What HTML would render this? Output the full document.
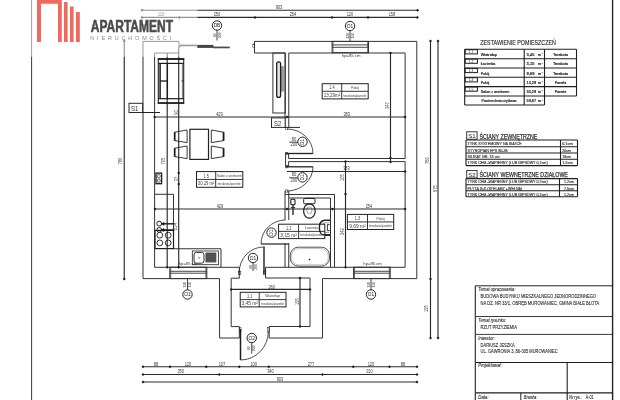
<!DOCTYPE html>
<html><head><meta charset="utf-8"><title>Rzut przyziemia</title>
<style>
html,body{margin:0;padding:0;background:#fff;}
body{width:620px;height:400px;overflow:hidden;font-family:"Liberation Sans",sans-serif;}
svg{display:block;font-family:"Liberation Sans",sans-serif;will-change:transform;transform:translateZ(0);}
svg text{filter:none}
</style></head><body>
<svg width="620" height="400" viewBox="0 0 620 400">
<rect width="620" height="400" fill="#fff"/>
<g opacity="0.999">
<line x1="31.6" y1="0" x2="31.6" y2="400" stroke="#3a3a3a" stroke-width="1.0"/>
<line x1="612.6" y1="0" x2="612.6" y2="400" stroke="#222" stroke-width="1.4"/>
<line x1="141.6" y1="10.2" x2="418" y2="10.2" stroke="#2a2a2a" stroke-width="1.15"/>
<line x1="141.6" y1="17.4" x2="418" y2="17.4" stroke="#2a2a2a" stroke-width="1.15"/>
<path d="M140.5 10.2 L142 8.7 L143.5 10.2 L142 11.7 Z" fill="#1c1c1c"/>
<path d="M416.1 10.2 L417.6 8.7 L419.1 10.2 L417.6 11.7 Z" fill="#1c1c1c"/>
<path d="M140.5 17.4 L142 15.899999999999999 L143.5 17.4 L142 18.9 Z" fill="#1c1c1c"/>
<path d="M177.8 17.4 L179.3 15.899999999999999 L180.8 17.4 L179.3 18.9 Z" fill="#1c1c1c"/>
<path d="M253.5 17.4 L255 15.899999999999999 L256.5 17.4 L255 18.9 Z" fill="#1c1c1c"/>
<path d="M330.5 17.4 L332 15.899999999999999 L333.5 17.4 L332 18.9 Z" fill="#1c1c1c"/>
<path d="M366.5 17.4 L368 15.899999999999999 L369.5 17.4 L368 18.9 Z" fill="#1c1c1c"/>
<path d="M415.9 17.4 L417.4 15.899999999999999 L418.9 17.4 L417.4 18.9 Z" fill="#1c1c1c"/>
<text x="279" y="8.7" font-size="5.4" text-anchor="middle" fill="#3a3a3a" font-weight="normal" font-style="normal" textLength="6.75" lengthAdjust="spacingAndGlyphs">903</text>
<text x="161" y="16.3" font-size="5.4" text-anchor="middle" fill="#3a3a3a" font-weight="normal" font-style="normal" textLength="6.75" lengthAdjust="spacingAndGlyphs">110</text>
<text x="217" y="16.3" font-size="5.4" text-anchor="middle" fill="#3a3a3a" font-weight="normal" font-style="normal" textLength="6.75" lengthAdjust="spacingAndGlyphs">250</text>
<text x="293" y="16.3" font-size="5.4" text-anchor="middle" fill="#3a3a3a" font-weight="normal" font-style="normal" textLength="6.75" lengthAdjust="spacingAndGlyphs">254</text>
<text x="350" y="16.3" font-size="5.4" text-anchor="middle" fill="#3a3a3a" font-weight="normal" font-style="normal" textLength="6.75" lengthAdjust="spacingAndGlyphs">120</text>
<text x="392" y="16.3" font-size="5.4" text-anchor="middle" fill="#3a3a3a" font-weight="normal" font-style="normal" textLength="6.75" lengthAdjust="spacingAndGlyphs">158</text>
<line x1="143" y1="366.75" x2="417" y2="366.75" stroke="#2a2a2a" stroke-width="1.15"/>
<path d="M141.5 366.75 L143 365.25 L144.5 366.75 L143 368.25 Z" fill="#1c1c1c"/>
<path d="M415.5 366.75 L417 365.25 L418.5 366.75 L417 368.25 Z" fill="#1c1c1c"/>
<line x1="143" y1="374.5" x2="417" y2="374.5" stroke="#2a2a2a" stroke-width="1.15"/>
<path d="M141.5 374.5 L143 373.0 L144.5 374.5 L143 376.0 Z" fill="#1c1c1c"/>
<path d="M415.5 374.5 L417 373.0 L418.5 374.5 L417 376.0 Z" fill="#1c1c1c"/>
<line x1="143" y1="382" x2="417" y2="382" stroke="#2a2a2a" stroke-width="1.15"/>
<path d="M141.5 382 L143 380.5 L144.5 382 L143 383.5 Z" fill="#1c1c1c"/>
<path d="M415.5 382 L417 380.5 L418.5 382 L417 383.5 Z" fill="#1c1c1c"/>
<path d="M168.5 366.75 L170 365.25 L171.5 366.75 L170 368.25 Z" fill="#1c1c1c"/>
<path d="M204.75 366.75 L206.25 365.25 L207.75 366.75 L206.25 368.25 Z" fill="#1c1c1c"/>
<path d="M237.75 366.75 L239.25 365.25 L240.75 366.75 L239.25 368.25 Z" fill="#1c1c1c"/>
<path d="M267.25 366.75 L268.75 365.25 L270.25 366.75 L268.75 368.25 Z" fill="#1c1c1c"/>
<path d="M351.75 366.75 L353.25 365.25 L354.75 366.75 L353.25 368.25 Z" fill="#1c1c1c"/>
<path d="M388.0 366.75 L389.5 365.25 L391.0 366.75 L389.5 368.25 Z" fill="#1c1c1c"/>
<path d="M217.75 374.5 L219.25 373.0 L220.75 374.5 L219.25 376.0 Z" fill="#1c1c1c"/>
<path d="M321.0 374.5 L322.5 373.0 L324.0 374.5 L322.5 376.0 Z" fill="#1c1c1c"/>
<text x="156" y="365.5" font-size="5.4" text-anchor="middle" fill="#3a3a3a" font-weight="normal" font-style="normal" textLength="4.5" lengthAdjust="spacingAndGlyphs">88</text>
<text x="188" y="365.5" font-size="5.4" text-anchor="middle" fill="#3a3a3a" font-weight="normal" font-style="normal" textLength="6.75" lengthAdjust="spacingAndGlyphs">120</text>
<text x="222" y="365.5" font-size="5.4" text-anchor="middle" fill="#3a3a3a" font-weight="normal" font-style="normal" textLength="6.75" lengthAdjust="spacingAndGlyphs">107</text>
<text x="253.75" y="365.5" font-size="5.4" text-anchor="middle" fill="#3a3a3a" font-weight="normal" font-style="normal" textLength="6.75" lengthAdjust="spacingAndGlyphs">100</text>
<text x="311" y="365.5" font-size="5.4" text-anchor="middle" fill="#3a3a3a" font-weight="normal" font-style="normal" textLength="6.75" lengthAdjust="spacingAndGlyphs">277</text>
<text x="371" y="365.5" font-size="5.4" text-anchor="middle" fill="#3a3a3a" font-weight="normal" font-style="normal" textLength="6.75" lengthAdjust="spacingAndGlyphs">120</text>
<text x="403" y="365.5" font-size="5.4" text-anchor="middle" fill="#3a3a3a" font-weight="normal" font-style="normal" textLength="4.5" lengthAdjust="spacingAndGlyphs">88</text>
<text x="180.75" y="373.3" font-size="5.4" text-anchor="middle" fill="#3a3a3a" font-weight="normal" font-style="normal" textLength="6.75" lengthAdjust="spacingAndGlyphs">350</text>
<text x="270.5" y="373.3" font-size="5.4" text-anchor="middle" fill="#3a3a3a" font-weight="normal" font-style="normal" textLength="6.75" lengthAdjust="spacingAndGlyphs">340</text>
<text x="369.5" y="373.3" font-size="5.4" text-anchor="middle" fill="#3a3a3a" font-weight="normal" font-style="normal" textLength="6.75" lengthAdjust="spacingAndGlyphs">310</text>
<text x="280" y="380.8" font-size="5.4" text-anchor="middle" fill="#3a3a3a" font-weight="normal" font-style="normal" textLength="6.75" lengthAdjust="spacingAndGlyphs">903</text>
<line x1="124.25" y1="41" x2="124.25" y2="279" stroke="#2a2a2a" stroke-width="1.15"/>
<path d="M122.75 41 L124.25 39.5 L125.75 41 L124.25 42.5 Z" fill="#1c1c1c"/>
<path d="M122.75 279 L124.25 277.5 L125.75 279 L124.25 280.5 Z" fill="#1c1c1c"/>
<text x="121.8" y="161.0" font-size="5.4" text-anchor="middle" fill="#3a3a3a" font-weight="normal" font-style="normal" transform="rotate(-90 121.8 161.0)" textLength="6.75" lengthAdjust="spacingAndGlyphs">780</text>
<line x1="430.5" y1="41" x2="430.5" y2="338" stroke="#2a2a2a" stroke-width="1.15"/>
<line x1="438" y1="41" x2="438" y2="338" stroke="#2a2a2a" stroke-width="1.15"/>
<path d="M429.0 41 L430.5 39.5 L432.0 41 L430.5 42.5 Z" fill="#1c1c1c"/>
<path d="M429.0 338 L430.5 336.5 L432.0 338 L430.5 339.5 Z" fill="#1c1c1c"/>
<path d="M436.5 41 L438 39.5 L439.5 41 L438 42.5 Z" fill="#1c1c1c"/>
<path d="M436.5 338 L438 336.5 L439.5 338 L438 339.5 Z" fill="#1c1c1c"/>
<path d="M429.0 279 L430.5 277.5 L432.0 279 L430.5 280.5 Z" fill="#1c1c1c"/>
<text x="429.3" y="160.5" font-size="5.4" text-anchor="middle" fill="#3a3a3a" font-weight="normal" font-style="normal" transform="rotate(-90 429.3 160.5)" textLength="6.75" lengthAdjust="spacingAndGlyphs">780</text>
<text x="436.8" y="188.5" font-size="5.4" text-anchor="middle" fill="#3a3a3a" font-weight="normal" font-style="normal" transform="rotate(-90 436.8 188.5)" textLength="6.75" lengthAdjust="spacingAndGlyphs">875</text>
<text x="428.3" y="308.5" font-size="5.4" text-anchor="middle" fill="#3a3a3a" font-weight="normal" font-style="normal" transform="rotate(-90 428.3 308.5)" textLength="6.75" lengthAdjust="spacingAndGlyphs">195</text>
<polyline points="179,47 179,41.4 143,41.4 143,278.6 170,278.6" fill="none" stroke="#333333" stroke-width="1.0"/>
<rect x="180" y="44.6" width="17" height="1.7" fill="#3a3a3a"/>
<rect x="197" y="44.9" width="16.5" height="3.0" fill="#454545"/>
<rect x="213" y="46.6" width="16.8" height="1.7" fill="#4a4a4a"/>
<circle cx="179.8" cy="46.6" r="0.9" fill="none" stroke="#444" stroke-width="0.5"/>
<polyline points="254.5,53 254.5,41.4 416.8,41.4 416.8,278.6 322.5,278.6 322.5,338 269.2,338" fill="none" stroke="#333333" stroke-width="1.0"/>
<rect x="252.8" y="44" width="1.7" height="3.6" rx="0" fill="none" stroke="#333" stroke-width="0.5"/>
<polyline points="206.5,278.6 219.5,278.6 219.6,338 239.3,338" fill="none" stroke="#333333" stroke-width="1.0"/>
<line x1="170" y1="278.6" x2="206.5" y2="278.6" stroke="#333333" stroke-width="1.0"/>
<polyline points="179,53 154.6,53 154.6,267.3 239.3,267.3" fill="none" stroke="#333333" stroke-width="1.0"/>
<line x1="254.5" y1="53" x2="285" y2="53" stroke="#333333" stroke-width="1.0"/>
<polyline points="288.75,117 288.75,53 405.1,53 405.1,158.5 288.6,158.5" fill="none" stroke="#333333" stroke-width="1.0"/>
<rect x="332.1" y="41.4" width="36.39999999999998" height="11.300000000000004" rx="0" fill="none" stroke="#333333" stroke-width="1.0"/>
<line x1="332.1" y1="44.9" x2="368.5" y2="44.9" stroke="#333" stroke-width="0.9"/>
<line x1="332.1" y1="47.3" x2="368.5" y2="47.3" stroke="#333" stroke-width="0.9"/>
<line x1="333.0" y1="41.4" x2="333.0" y2="52.7" stroke="#333" stroke-width="0.7"/>
<line x1="367.6" y1="41.4" x2="367.6" y2="52.7" stroke="#333" stroke-width="0.7"/>
<rect x="169.8" y="267.2" width="37.0" height="11.400000000000034" rx="0" fill="none" stroke="#333333" stroke-width="1.0"/>
<line x1="169.8" y1="271.3" x2="206.8" y2="271.3" stroke="#333" stroke-width="0.9"/>
<line x1="169.8" y1="273.2" x2="206.8" y2="273.2" stroke="#333" stroke-width="0.9"/>
<line x1="170.70000000000002" y1="267.2" x2="170.70000000000002" y2="278.6" stroke="#333" stroke-width="0.7"/>
<line x1="205.9" y1="267.2" x2="205.9" y2="278.6" stroke="#333" stroke-width="0.7"/>
<rect x="353.6" y="267.2" width="36.599999999999966" height="11.400000000000034" rx="0" fill="none" stroke="#333333" stroke-width="1.0"/>
<line x1="353.6" y1="271.3" x2="390.2" y2="271.3" stroke="#333" stroke-width="0.9"/>
<line x1="353.6" y1="273.2" x2="390.2" y2="273.2" stroke="#333" stroke-width="0.9"/>
<line x1="354.5" y1="267.2" x2="354.5" y2="278.6" stroke="#333" stroke-width="0.7"/>
<line x1="389.3" y1="267.2" x2="389.3" y2="278.6" stroke="#333" stroke-width="0.7"/>
<text x="351.2" y="57" font-size="4.2" text-anchor="middle" fill="#333" font-weight="normal" font-style="normal">hp=85 cm</text>
<text x="188" y="265" font-size="4.2" text-anchor="middle" fill="#333" font-weight="normal" font-style="normal">hp=85 cm</text>
<text x="372.6" y="264.7" font-size="4.2" text-anchor="middle" fill="#333" font-weight="normal" font-style="normal">hp=85 cm</text>
<rect x="272.9" y="53" width="12.4" height="60" rx="0" fill="none" stroke="#333333" stroke-width="1.0"/>
<line x1="285" y1="53" x2="285" y2="128" stroke="#333333" stroke-width="1.0"/>
<line x1="288.75" y1="117" x2="288.75" y2="128" stroke="#333333" stroke-width="1.0"/>
<rect x="280.4" y="66.6" width="3.2" height="24.6" fill="#9a9a9a" stroke="#666" stroke-width="0.4"/>
<rect x="276.7" y="61.8" width="3.9" height="35.6" rx="1.95" fill="#e4e4e4" stroke="#1c1c1c" stroke-width="1.3"/>
<polyline points="288.6,161.6 405.1,161.6 405.1,267.3 334.5,267.3" fill="none" stroke="#333333" stroke-width="1.0"/>
<line x1="239.3" y1="267.3" x2="239.3" y2="278.2" stroke="#333333" stroke-width="1.0"/>
<line x1="265.5" y1="267.3" x2="265.5" y2="278" stroke="#333333" stroke-width="1.0"/>
<line x1="265.5" y1="267.3" x2="334.5" y2="267.3" stroke="#333333" stroke-width="1.0"/>
<polyline points="285,220 285,194.5 334.5,194.5 334.5,267.3" fill="none" stroke="#333333" stroke-width="1.0"/>
<polyline points="288.75,220 288.75,198 330.5,198 330.5,267.3" fill="none" stroke="#333333" stroke-width="1.0"/>
<line x1="285" y1="243" x2="285" y2="267.3" stroke="#333333" stroke-width="1.0"/>
<line x1="288.75" y1="243" x2="288.75" y2="267.3" stroke="#333333" stroke-width="1.0"/>
<polyline points="288.6,158.5 288.6,153.5 285.6,153.5 285.6,166.3 288.6,166.3 288.6,161.6" fill="none" stroke="#333333" stroke-width="1.0"/>
<line x1="285" y1="191" x2="285" y2="194.5" stroke="#333333" stroke-width="1.0"/>
<line x1="288.75" y1="191" x2="288.75" y2="198" stroke="#333333" stroke-width="1.0"/>
<polyline points="239.3,278.2 231.2,278.2 231.2,326.6 239.3,326.6 239.3,338" fill="none" stroke="#333333" stroke-width="1.0"/>
<polyline points="265.5,278 310,278 310,326.5 269.2,326.5 269.2,338" fill="none" stroke="#333333" stroke-width="1.0"/>
<path d="M313 153.5 A26 24.5 0 0 0 287 129" fill="none" stroke="#262626" stroke-width="0.8"/>
<line x1="286" y1="153.5" x2="313" y2="153.5" stroke="#222" stroke-width="1.3"/>
<path d="M313 166.8 A26 24.2 0 0 1 287 191" fill="none" stroke="#262626" stroke-width="0.8"/>
<line x1="286" y1="166.8" x2="313" y2="166.8" stroke="#222" stroke-width="1.3"/>
<rect x="285.6" y="127.4" width="2.2" height="2.2" rx="0" fill="none" stroke="#222" stroke-width="0.5"/>
<rect x="285.6" y="152.4" width="2.2" height="2.2" rx="0" fill="none" stroke="#222" stroke-width="0.5"/>
<rect x="285.6" y="165.70000000000002" width="2.2" height="2.2" rx="0" fill="none" stroke="#222" stroke-width="0.5"/>
<rect x="285.6" y="189.9" width="2.2" height="2.2" rx="0" fill="none" stroke="#222" stroke-width="0.5"/>
<line x1="285" y1="127.4" x2="300" y2="127.4" stroke="#2a2a2a" stroke-width="1.0"/>
<path d="M261 244 A24.5 24 0 0 1 285.4 220" fill="none" stroke="#262626" stroke-width="0.8"/>
<line x1="261" y1="244" x2="288.75" y2="244" stroke="#222" stroke-width="1.2"/>
<path d="M263.5 247 A24.5 25 0 0 0 239.3 272.5" fill="none" stroke="#262626" stroke-width="0.8"/>
<line x1="264" y1="246.6" x2="264" y2="274" stroke="#1e1e1e" stroke-width="1.4"/>
<rect x="238.4" y="271.2" width="2.4" height="3.4" rx="0" fill="none" stroke="#222" stroke-width="0.6"/>
<rect x="263.4" y="271.2" width="2.4" height="3.4" rx="0" fill="none" stroke="#222" stroke-width="0.6"/>
<path d="M240.5 360 A27.8 28.5 0 0 0 268.3 331.5" fill="none" stroke="#262626" stroke-width="0.8"/>
<line x1="240.5" y1="329" x2="240.5" y2="360" stroke="#1e1e1e" stroke-width="1.5"/>
<rect x="239.4" y="327.5" width="1.6" height="4.5" rx="0" fill="none" stroke="#222" stroke-width="0.5"/>
<rect x="267.6" y="327.5" width="1.6" height="4.5" rx="0" fill="none" stroke="#222" stroke-width="0.5"/>
<line x1="217" y1="30" x2="217" y2="40.5" stroke="#2e2e2e" stroke-width="0.9"/>
<circle cx="217" cy="25.5" r="4.7" fill="#fff" stroke="#222" stroke-width="1.0"/>
<text x="217" y="27.2" font-size="4.8" text-anchor="middle" fill="#222" font-weight="normal" font-style="normal">DB</text>
<text x="215.7" y="35.3" font-size="3.4" text-anchor="middle" fill="#444" font-weight="normal" font-style="normal" transform="rotate(-90 215.7 35.3)">90</text>
<text x="220.7" y="35.3" font-size="3.4" text-anchor="middle" fill="#444" font-weight="normal" font-style="normal" transform="rotate(-90 220.7 35.3)">200</text>
<line x1="350" y1="30.5" x2="350" y2="41" stroke="#2e2e2e" stroke-width="0.9"/>
<circle cx="350" cy="26" r="4.7" fill="#fff" stroke="#222" stroke-width="1.0"/>
<text x="350" y="27.7" font-size="4.8" text-anchor="middle" fill="#222" font-weight="normal" font-style="normal">O1</text>
<text x="348.7" y="35.7" font-size="3.4" text-anchor="middle" fill="#444" font-weight="normal" font-style="normal" transform="rotate(-90 348.7 35.7)">120</text>
<text x="353.7" y="35.7" font-size="3.4" text-anchor="middle" fill="#444" font-weight="normal" font-style="normal" transform="rotate(-90 353.7 35.7)">150</text>
<line x1="187.5" y1="279" x2="187.5" y2="290" stroke="#2e2e2e" stroke-width="0.9"/>
<circle cx="187.5" cy="294.5" r="4.7" fill="#fff" stroke="#222" stroke-width="1.0"/>
<text x="187.5" y="296.2" font-size="4.8" text-anchor="middle" fill="#222" font-weight="normal" font-style="normal">O1</text>
<text x="186.2" y="284.6" font-size="3.4" text-anchor="middle" fill="#444" font-weight="normal" font-style="normal" transform="rotate(-90 186.2 284.6)">120</text>
<text x="191.2" y="284.6" font-size="3.4" text-anchor="middle" fill="#444" font-weight="normal" font-style="normal" transform="rotate(-90 191.2 284.6)">150</text>
<line x1="371" y1="279" x2="371" y2="290" stroke="#2e2e2e" stroke-width="0.9"/>
<circle cx="371" cy="294.5" r="4.7" fill="#fff" stroke="#222" stroke-width="1.0"/>
<text x="371" y="296.2" font-size="4.8" text-anchor="middle" fill="#222" font-weight="normal" font-style="normal">O1</text>
<text x="369.7" y="284.6" font-size="3.4" text-anchor="middle" fill="#444" font-weight="normal" font-style="normal" transform="rotate(-90 369.7 284.6)">120</text>
<text x="374.7" y="284.6" font-size="3.4" text-anchor="middle" fill="#444" font-weight="normal" font-style="normal" transform="rotate(-90 374.7 284.6)">150</text>
<line x1="251.75" y1="342.5" x2="251.75" y2="353.5" stroke="#2e2e2e" stroke-width="0.9"/>
<circle cx="251.75" cy="338" r="4.7" fill="#fff" stroke="#222" stroke-width="1.0"/>
<text x="251.75" y="339.7" font-size="4.8" text-anchor="middle" fill="#222" font-weight="normal" font-style="normal">O2</text>
<text x="250.45" y="348.3" font-size="3.4" text-anchor="middle" fill="#444" font-weight="normal" font-style="normal" transform="rotate(-90 250.45 348.3)">90</text>
<text x="255.45" y="348.3" font-size="3.4" text-anchor="middle" fill="#444" font-weight="normal" font-style="normal" transform="rotate(-90 255.45 348.3)">200</text>
<circle cx="302.5" cy="141.8" r="4.7" fill="#fff" stroke="#222" stroke-width="1.0"/>
<text x="302.5" y="141.8" font-size="4.8" text-anchor="middle" fill="#222" transform="rotate(-90 302.5 141.8) translate(0 1.7)">D1</text>
<text x="294" y="140.60000000000002" font-size="4.9" text-anchor="middle" fill="#3a3a3a" font-weight="normal" font-style="normal" textLength="4.6" lengthAdjust="spacingAndGlyphs">80</text>
<text x="293.8" y="146.4" font-size="4.9" text-anchor="middle" fill="#3a3a3a" font-weight="normal" font-style="normal" textLength="6.8" lengthAdjust="spacingAndGlyphs">200</text>
<line x1="289" y1="142.10000000000002" x2="297.8" y2="142.10000000000002" stroke="#333" stroke-width="0.8"/>
<circle cx="302.5" cy="177.4" r="4.7" fill="#fff" stroke="#222" stroke-width="1.0"/>
<text x="302.5" y="177.4" font-size="4.8" text-anchor="middle" fill="#222" transform="rotate(-90 302.5 177.4) translate(0 1.7)">D1</text>
<text x="294" y="176.20000000000002" font-size="4.9" text-anchor="middle" fill="#3a3a3a" font-weight="normal" font-style="normal" textLength="4.6" lengthAdjust="spacingAndGlyphs">80</text>
<text x="293.8" y="182.0" font-size="4.9" text-anchor="middle" fill="#3a3a3a" font-weight="normal" font-style="normal" textLength="6.8" lengthAdjust="spacingAndGlyphs">200</text>
<line x1="289" y1="177.70000000000002" x2="297.8" y2="177.70000000000002" stroke="#333" stroke-width="0.8"/>
<circle cx="271.5" cy="232.6" r="4.7" fill="#fff" stroke="#222" stroke-width="1.0"/>
<text x="271.5" y="232.6" font-size="4.8" text-anchor="middle" fill="#222" transform="rotate(-90 271.5 232.6) translate(0 1.7)">D1</text>
<line x1="253" y1="262.5" x2="253" y2="271" stroke="#2e2e2e" stroke-width="0.9"/>
<circle cx="253" cy="258" r="4.7" fill="#fff" stroke="#222" stroke-width="1.0"/>
<text x="253" y="259.7" font-size="4.8" text-anchor="middle" fill="#222" font-weight="normal" font-style="normal">D1</text>
<text x="251.7" y="267" font-size="3.4" text-anchor="middle" fill="#444" font-weight="normal" font-style="normal" transform="rotate(-90 251.7 267)">80</text>
<text x="256.7" y="267" font-size="3.4" text-anchor="middle" fill="#444" font-weight="normal" font-style="normal" transform="rotate(-90 256.7 267)">200</text>
<line x1="154.6" y1="117" x2="405.1" y2="117" stroke="#2a2a2a" stroke-width="1.15"/>
<path d="M153.1 117 L154.6 115.5 L156.1 117 L154.6 118.5 Z" fill="#1c1c1c"/>
<path d="M403.6 117 L405.1 115.5 L406.6 117 L405.1 118.5 Z" fill="#1c1c1c"/>
<path d="M285.5 117 L287 115.5 L288.5 117 L287 118.5 Z" fill="#1c1c1c"/>
<text x="219.5" y="115.8" font-size="5.4" text-anchor="middle" fill="#3a3a3a" font-weight="normal" font-style="normal" textLength="6.75" lengthAdjust="spacingAndGlyphs">429</text>
<text x="346.75" y="115.8" font-size="5.4" text-anchor="middle" fill="#3a3a3a" font-weight="normal" font-style="normal" textLength="6.75" lengthAdjust="spacingAndGlyphs">383</text>
<line x1="155" y1="209" x2="405.1" y2="209" stroke="#2a2a2a" stroke-width="1.15"/>
<path d="M153.5 209 L155 207.5 L156.5 209 L155 210.5 Z" fill="#1c1c1c"/>
<path d="M403.6 209 L405.1 207.5 L406.6 209 L405.1 210.5 Z" fill="#1c1c1c"/>
<path d="M285.5 209 L287 207.5 L288.5 209 L287 210.5 Z" fill="#1c1c1c"/>
<path d="M331.0 209 L332.5 207.5 L334.0 209 L332.5 210.5 Z" fill="#1c1c1c"/>
<text x="220" y="207.8" font-size="5.4" text-anchor="middle" fill="#3a3a3a" font-weight="normal" font-style="normal" textLength="6.75" lengthAdjust="spacingAndGlyphs">429</text>
<text x="369" y="207.8" font-size="5.4" text-anchor="middle" fill="#3a3a3a" font-weight="normal" font-style="normal" textLength="6.75" lengthAdjust="spacingAndGlyphs">254</text>
<line x1="345.5" y1="171.5" x2="405.1" y2="171.5" stroke="#2a2a2a" stroke-width="1.15"/>
<path d="M403.6 171.5 L405.1 170.0 L406.6 171.5 L405.1 173.0 Z" fill="#1c1c1c"/>
<line x1="287" y1="171.5" x2="345.5" y2="171.5" stroke="#2a2a2a" stroke-width="1.15"/>
<text x="346.5" y="170.3" font-size="5.4" text-anchor="middle" fill="#3a3a3a" font-weight="normal" font-style="normal" textLength="6.75" lengthAdjust="spacingAndGlyphs">383</text>
<line x1="390.5" y1="53" x2="390.5" y2="162" stroke="#2a2a2a" stroke-width="1.15"/>
<path d="M389.0 53 L390.5 51.5 L392.0 53 L390.5 54.5 Z" fill="#1c1c1c"/>
<path d="M389.0 158 L390.5 156.5 L392.0 158 L390.5 159.5 Z" fill="#1c1c1c"/>
<path d="M389.0 162 L390.5 160.5 L392.0 162 L390.5 163.5 Z" fill="#1c1c1c"/>
<text x="389.3" y="105.5" font-size="5.4" text-anchor="middle" fill="#3a3a3a" font-weight="normal" font-style="normal" transform="rotate(-90 389.3 105.5)" textLength="6.75" lengthAdjust="spacingAndGlyphs">347</text>
<line x1="345.5" y1="161.6" x2="345.5" y2="267.3" stroke="#2a2a2a" stroke-width="1.15"/>
<path d="M344.0 161.6 L345.5 160.1 L347.0 161.6 L345.5 163.1 Z" fill="#1c1c1c"/>
<path d="M344.0 194 L345.5 192.5 L347.0 194 L345.5 195.5 Z" fill="#1c1c1c"/>
<path d="M344.0 267.3 L345.5 265.8 L347.0 267.3 L345.5 268.8 Z" fill="#1c1c1c"/>
<text x="344.3" y="177.5" font-size="5.4" text-anchor="middle" fill="#3a3a3a" font-weight="normal" font-style="normal" transform="rotate(-90 344.3 177.5)" textLength="6.75" lengthAdjust="spacingAndGlyphs">105</text>
<text x="344.3" y="231.5" font-size="5.4" text-anchor="middle" fill="#3a3a3a" font-weight="normal" font-style="normal" transform="rotate(-90 344.3 231.5)" textLength="6.75" lengthAdjust="spacingAndGlyphs">242</text>
<line x1="167.2" y1="53" x2="167.2" y2="267.3" stroke="#2a2a2a" stroke-width="1.15"/>
<line x1="178.7" y1="47" x2="178.7" y2="267.3" stroke="#2a2a2a" stroke-width="1.15"/>
<path d="M177.2 173 L178.7 171.5 L180.2 173 L178.7 174.5 Z" fill="#1c1c1c"/>
<path d="M177.2 184 L178.7 182.5 L180.2 184 L178.7 185.5 Z" fill="#1c1c1c"/>
<path d="M165.7 267.3 L167.2 265.8 L168.7 267.3 L167.2 268.8 Z" fill="#1c1c1c"/>
<path d="M177.2 267.3 L178.7 265.8 L180.2 267.3 L178.7 268.8 Z" fill="#1c1c1c"/>
<text x="164.8" y="161.0" font-size="5.4" text-anchor="middle" fill="#3a3a3a" font-weight="normal" font-style="normal" transform="rotate(-90 164.8 161.0)" textLength="6.75" lengthAdjust="spacingAndGlyphs">705</text>
<text x="178" y="179.0" font-size="5.4" text-anchor="middle" fill="#3a3a3a" font-weight="normal" font-style="normal" transform="rotate(-90 178 179.0)" textLength="4.5" lengthAdjust="spacingAndGlyphs">37</text>
<text x="178.2" y="112.5" font-size="5.4" text-anchor="middle" fill="#3a3a3a" font-weight="normal" font-style="normal" transform="rotate(-90 178.2 112.5)" textLength="4.5" lengthAdjust="spacingAndGlyphs">90</text>
<text x="177" y="226.5" font-size="5.4" text-anchor="middle" fill="#3a3a3a" font-weight="normal" font-style="normal" transform="rotate(-90 177 226.5)" textLength="6.75" lengthAdjust="spacingAndGlyphs">214</text>
<line x1="231.2" y1="289.4" x2="310" y2="289.4" stroke="#2a2a2a" stroke-width="1.15"/>
<path d="M229.7 289.4 L231.2 287.9 L232.7 289.4 L231.2 290.9 Z" fill="#1c1c1c"/>
<path d="M308.5 289.4 L310 287.9 L311.5 289.4 L310 290.9 Z" fill="#1c1c1c"/>
<text x="271.75" y="288.5" font-size="5.4" text-anchor="middle" fill="#3a3a3a" font-weight="normal" font-style="normal" textLength="6.75" lengthAdjust="spacingAndGlyphs">260</text>
<line x1="300" y1="278" x2="300" y2="326.5" stroke="#2a2a2a" stroke-width="1.15"/>
<path d="M298.5 278 L300 276.5 L301.5 278 L300 279.5 Z" fill="#1c1c1c"/>
<path d="M298.5 326.5 L300 325.0 L301.5 326.5 L300 328.0 Z" fill="#1c1c1c"/>
<text x="298.8" y="301.5" font-size="5.4" text-anchor="middle" fill="#3a3a3a" font-weight="normal" font-style="normal" transform="rotate(-90 298.8 301.5)" textLength="6.75" lengthAdjust="spacingAndGlyphs">195</text>
<rect x="129" y="103.3" width="13.6" height="9.2" rx="0" fill="#fff" stroke="#2a2a2a" stroke-width="1.0"/>
<text x="130.9" y="110.9" font-size="7.6" text-anchor="start" fill="#333" font-weight="normal" font-style="normal" textLength="7.4" lengthAdjust="spacingAndGlyphs">S1</text>
<line x1="142.4" y1="112.5" x2="160" y2="112.5" stroke="#222" stroke-width="1.0"/>
<rect x="271.5" y="117.9" width="13.7" height="9.5" rx="0" fill="#fff" stroke="#2a2a2a" stroke-width="1.0"/>
<text x="274.1" y="126.1" font-size="7.2" text-anchor="start" fill="#333" font-weight="normal" font-style="normal" textLength="7.2" lengthAdjust="spacingAndGlyphs">S2</text>
<rect x="158.3" y="58.9" width="25.4" height="44.2" rx="0" fill="none" stroke="#222" stroke-width="1.1"/>
<line x1="157.8" y1="59" x2="184.2" y2="59" stroke="#1a1a1a" stroke-width="1.7"/>
<line x1="157.8" y1="103" x2="184.2" y2="103" stroke="#1a1a1a" stroke-width="1.5"/>
<line x1="158.3" y1="63.4" x2="183.7" y2="63.4" stroke="#1a1a1a" stroke-width="1.2"/>
<line x1="158.3" y1="98.7" x2="183.7" y2="98.7" stroke="#1a1a1a" stroke-width="1.2"/>
<line x1="160.1" y1="63.4" x2="160.1" y2="98.7" stroke="#1a1a1a" stroke-width="1.5"/>
<line x1="167.4" y1="63.4" x2="167.4" y2="98.7" stroke="#1a1a1a" stroke-width="1.3"/>
<line x1="160.1" y1="81" x2="167.4" y2="81" stroke="#1a1a1a" stroke-width="1.3"/>
<line x1="182.4" y1="63.4" x2="182.4" y2="98.7" stroke="#444" stroke-width="0.7"/>
<line x1="181.6" y1="81" x2="183.7" y2="81" stroke="#222" stroke-width="1.0"/>
<rect x="189.9" y="129.3" width="18.6" height="30.1" rx="0" fill="none" stroke="#222" stroke-width="1.2"/>
<polygon points="174.5,132.2 187.1,130 187.1,142.6 174.5,140.6" fill="none" stroke="#222" stroke-width="0.9"/>
<line x1="174.7" y1="132" x2="174.7" y2="140.8" stroke="#1c1c1c" stroke-width="1.7"/>
<polygon points="174.5,148.2 187.1,146 187.1,158.6 174.5,156.6" fill="none" stroke="#222" stroke-width="0.9"/>
<line x1="174.7" y1="148" x2="174.7" y2="156.8" stroke="#1c1c1c" stroke-width="1.7"/>
<polygon points="211.3,130 223.70000000000002,132.2 223.70000000000002,140.6 211.3,142.6" fill="none" stroke="#222" stroke-width="0.9"/>
<line x1="223.5" y1="132" x2="223.5" y2="140.8" stroke="#1c1c1c" stroke-width="1.7"/>
<polygon points="211.3,146 223.70000000000002,148.2 223.70000000000002,156.6 211.3,158.6" fill="none" stroke="#222" stroke-width="0.9"/>
<line x1="223.5" y1="148" x2="223.5" y2="156.8" stroke="#1c1c1c" stroke-width="1.7"/>
<rect x="156" y="173.1" width="5.6" height="10.6" rx="0" fill="none" stroke="#1c1c1c" stroke-width="1.3"/>
<rect x="157.4" y="174.6" width="2.8" height="3" rx="0.8" fill="none" stroke="#222" stroke-width="0.7"/>
<rect x="157.4" y="179.2" width="2.8" height="3" rx="0.8" fill="none" stroke="#222" stroke-width="0.7"/>
<polyline points="155,194.3 173.5,194.3 173.5,248.75 221,248.75 221,267.3" fill="none" stroke="#333333" stroke-width="1.0"/>
<rect x="155" y="230.4" width="18.5" height="18.2" rx="0" fill="none" stroke="#1e1e1e" stroke-width="1.2"/>
<circle cx="159.8" cy="235.2" r="2.9" fill="none" stroke="#1e1e1e" stroke-width="0.9"/>
<circle cx="159.8" cy="242.9" r="2.9" fill="none" stroke="#1e1e1e" stroke-width="0.9"/>
<circle cx="168.2" cy="235.2" r="2.9" fill="none" stroke="#1e1e1e" stroke-width="0.9"/>
<circle cx="168.2" cy="242.9" r="2.9" fill="none" stroke="#1e1e1e" stroke-width="0.9"/>
<circle cx="159.2" cy="223.6" r="2.4" fill="none" stroke="#1e1e1e" stroke-width="1.0"/>
<circle cx="159.2" cy="229.9" r="2.4" fill="none" stroke="#1e1e1e" stroke-width="1.0"/>
<line x1="162" y1="223.8" x2="174.5" y2="223.8" stroke="#1a1a1a" stroke-width="1.4"/>
<line x1="162" y1="230" x2="174.5" y2="230" stroke="#1a1a1a" stroke-width="1.4"/>
<path d="M160.8 223.8 l3.4 -1.9 v3.8 z M160.8 230 l3.4 -1.9 v3.8 z" fill="#111"/>
<rect x="192.3" y="251" width="26.1" height="13.7" rx="0" fill="none" stroke="#222" stroke-width="0.8"/>
<rect x="194" y="252.4" width="10" height="10.8" rx="2.4" fill="none" stroke="#2a2a2a" stroke-width="1.0"/>
<circle cx="199.2" cy="257.8" r="0.8" fill="none" stroke="#333" stroke-width="0.4"/>
<rect x="205.5" y="252.6" width="10.8" height="9.8" fill="#3a3a3a"/>
<line x1="205.5" y1="254.2" x2="216.5" y2="254.2" stroke="#aaa" stroke-width="0.4"/>
<line x1="205.5" y1="256.09999999999997" x2="216.5" y2="256.09999999999997" stroke="#aaa" stroke-width="0.4"/>
<line x1="205.5" y1="258.0" x2="216.5" y2="258.0" stroke="#aaa" stroke-width="0.4"/>
<line x1="205.5" y1="259.9" x2="216.5" y2="259.9" stroke="#aaa" stroke-width="0.4"/>
<line x1="205.5" y1="261.8" x2="216.5" y2="261.8" stroke="#aaa" stroke-width="0.4"/>
<rect x="303.7" y="198.4" width="11.3" height="5.4" rx="1" fill="none" stroke="#1e1e1e" stroke-width="1.0"/>
<ellipse cx="309.4" cy="211" rx="5.8" ry="7.2" fill="none" stroke="#1e1e1e" stroke-width="1.2"/>
<ellipse cx="309.4" cy="210.2" rx="2.6" ry="3.4" fill="none" stroke="#444" stroke-width="0.5"/>
<rect x="290.8" y="199.2" width="4.2" height="5.6" rx="1" fill="none" stroke="#1e1e1e" stroke-width="1.1"/>
<line x1="293" y1="204.8" x2="293" y2="215" stroke="#1e1e1e" stroke-width="1.3"/>
<line x1="290.8" y1="207.4" x2="295.2" y2="207.4" stroke="#1e1e1e" stroke-width="0.9"/>
<path d="M330 220.4 H324.2 C317.8 220.4 317.8 235 324.2 235 H330" fill="#fff" stroke="#1e1e1e" stroke-width="1.4"/>
<path d="M329.5 222.8 H324 C321 222.8 321 232.4 324 232.4 H329.5" fill="none" stroke="#444" stroke-width="0.5"/>
<rect x="290.3" y="247.2" width="39.2" height="19" rx="8" fill="none" stroke="#222" stroke-width="0.8"/>
<rect x="291.6" y="248.6" width="36.6" height="16.2" rx="7" fill="none" stroke="#666" stroke-width="0.4"/>
<path d="M308.5 259.5 L309.5 258.5 L310.5 259.5 L309.5 260.5 Z" fill="#1c1c1c"/>
<rect x="322.2" y="83.7" width="46" height="15.2" rx="0" fill="#fff" stroke="#222" stroke-width="1.0"/>
<line x1="341.7" y1="83.7" x2="341.7" y2="98.9" stroke="#222" stroke-width="0.9"/>
<line x1="322.2" y1="91.3" x2="368.2" y2="91.3" stroke="#222" stroke-width="0.9"/>
<text x="331.95" y="89.39999999999999" font-size="4.9" text-anchor="middle" fill="#3c3c3c" font-weight="normal" font-style="normal" textLength="5.4" lengthAdjust="spacingAndGlyphs">1.4</text>
<text x="331.95" y="97.0" font-size="4.9" text-anchor="middle" fill="#3c3c3c" font-weight="normal" font-style="normal" textLength="16.5" lengthAdjust="spacingAndGlyphs">13,29m²</text>
<text x="354.95" y="89.0" font-size="4.0" text-anchor="middle" fill="#3c3c3c" font-weight="normal" font-style="normal" textLength="8" lengthAdjust="spacingAndGlyphs">Pokój</text>
<text x="354.95" y="96.5" font-size="4.0" text-anchor="middle" fill="#3c3c3c" font-weight="normal" font-style="normal" textLength="22.8" lengthAdjust="spacingAndGlyphs">terakota/panele</text>
<rect x="196.5" y="171.6" width="46.3" height="15.7" rx="0" fill="#fff" stroke="#222" stroke-width="1.0"/>
<line x1="215.7" y1="171.6" x2="215.7" y2="187.29999999999998" stroke="#222" stroke-width="0.9"/>
<line x1="196.5" y1="179.45" x2="242.8" y2="179.45" stroke="#222" stroke-width="0.9"/>
<text x="206.1" y="177.54999999999998" font-size="4.9" text-anchor="middle" fill="#3c3c3c" font-weight="normal" font-style="normal" textLength="5.4" lengthAdjust="spacingAndGlyphs">1.5</text>
<text x="206.1" y="185.39999999999998" font-size="4.9" text-anchor="middle" fill="#3c3c3c" font-weight="normal" font-style="normal" textLength="16.5" lengthAdjust="spacingAndGlyphs">30,29 m²</text>
<text x="229.25" y="177.14999999999998" font-size="4.0" text-anchor="middle" fill="#3c3c3c" font-weight="normal" font-style="normal" textLength="25" lengthAdjust="spacingAndGlyphs">Salon z aneksem</text>
<text x="229.25" y="184.89999999999998" font-size="4.0" text-anchor="middle" fill="#3c3c3c" font-weight="normal" font-style="normal" textLength="22.8" lengthAdjust="spacingAndGlyphs">terakota/panele</text>
<rect x="347.4" y="214.4" width="46.3" height="15.1" rx="0" fill="#fff" stroke="#222" stroke-width="1.0"/>
<line x1="367.5" y1="214.4" x2="367.5" y2="229.5" stroke="#222" stroke-width="0.9"/>
<line x1="347.4" y1="221.95000000000002" x2="393.7" y2="221.95000000000002" stroke="#222" stroke-width="0.9"/>
<text x="357.45" y="220.05" font-size="4.9" text-anchor="middle" fill="#3c3c3c" font-weight="normal" font-style="normal" textLength="5.4" lengthAdjust="spacingAndGlyphs">1.3</text>
<text x="357.45" y="227.6" font-size="4.9" text-anchor="middle" fill="#3c3c3c" font-weight="normal" font-style="normal" textLength="16.5" lengthAdjust="spacingAndGlyphs">9,69  m²</text>
<text x="380.59999999999997" y="219.65" font-size="4.0" text-anchor="middle" fill="#3c3c3c" font-weight="normal" font-style="normal" textLength="8" lengthAdjust="spacingAndGlyphs">Pokój</text>
<text x="380.59999999999997" y="227.1" font-size="4.0" text-anchor="middle" fill="#3c3c3c" font-weight="normal" font-style="normal" textLength="22.8" lengthAdjust="spacingAndGlyphs">terakota/panele</text>
<rect x="278.6" y="224.2" width="46.2" height="14.4" rx="0" fill="#fff" stroke="#222" stroke-width="1.0"/>
<line x1="298.6" y1="224.2" x2="298.6" y2="238.6" stroke="#222" stroke-width="0.9"/>
<line x1="278.6" y1="231.39999999999998" x2="324.8" y2="231.39999999999998" stroke="#222" stroke-width="0.9"/>
<text x="288.6" y="229.49999999999997" font-size="4.9" text-anchor="middle" fill="#3c3c3c" font-weight="normal" font-style="normal" textLength="5.4" lengthAdjust="spacingAndGlyphs">1.2</text>
<text x="288.6" y="236.7" font-size="4.9" text-anchor="middle" fill="#3c3c3c" font-weight="normal" font-style="normal" textLength="16.5" lengthAdjust="spacingAndGlyphs">3,15  m²</text>
<text x="311.70000000000005" y="229.09999999999997" font-size="4.0" text-anchor="middle" fill="#3c3c3c" font-weight="normal" font-style="normal" textLength="13" lengthAdjust="spacingAndGlyphs">Łazienka</text>
<text x="311.70000000000005" y="236.2" font-size="4.0" text-anchor="middle" fill="#3c3c3c" font-weight="normal" font-style="normal" textLength="22.8" lengthAdjust="spacingAndGlyphs">terakota/panele</text>
<rect x="240.2" y="292.3" width="45.8" height="14.6" rx="0" fill="#fff" stroke="#222" stroke-width="1.0"/>
<line x1="259.2" y1="292.3" x2="259.2" y2="306.90000000000003" stroke="#222" stroke-width="0.9"/>
<line x1="240.2" y1="299.6" x2="286.0" y2="299.6" stroke="#222" stroke-width="0.9"/>
<text x="249.7" y="297.70000000000005" font-size="4.9" text-anchor="middle" fill="#3c3c3c" font-weight="normal" font-style="normal" textLength="5.4" lengthAdjust="spacingAndGlyphs">1.1</text>
<text x="249.7" y="305.00000000000006" font-size="4.9" text-anchor="middle" fill="#3c3c3c" font-weight="normal" font-style="normal" textLength="16.5" lengthAdjust="spacingAndGlyphs">3,45 m²</text>
<text x="272.59999999999997" y="297.3" font-size="4.0" text-anchor="middle" fill="#3c3c3c" font-weight="normal" font-style="normal" textLength="14.5" lengthAdjust="spacingAndGlyphs">Wiatrołap</text>
<text x="272.59999999999997" y="304.50000000000006" font-size="4.0" text-anchor="middle" fill="#3c3c3c" font-weight="normal" font-style="normal" textLength="22.8" lengthAdjust="spacingAndGlyphs">terakota/panele</text>
<path d="M330 220.4 H324.2 C317.8 220.4 317.8 235 324.2 235 H330" fill="none" stroke="#1e1e1e" stroke-width="1.4"/>
<path d="M329.6 224.6 h-2.2 v6 h2.2" fill="none" stroke="#1e1e1e" stroke-width="0.9"/>
<text x="480.3" y="44.9" font-size="7.3" text-anchor="start" fill="#2a2a2a" font-weight="normal" font-style="normal" textLength="75.5" lengthAdjust="spacingAndGlyphs" stroke="#2a2a2a" stroke-width="0.15">ZESTAWIENIE POMIESZCZEŃ</text>
<line x1="464.7" y1="49.3" x2="576.5" y2="49.3" stroke="#1e1e1e" stroke-width="1.1"/>
<line x1="464.7" y1="58.7" x2="576.5" y2="58.7" stroke="#1e1e1e" stroke-width="1.1"/>
<line x1="464.7" y1="68" x2="576.5" y2="68" stroke="#1e1e1e" stroke-width="1.1"/>
<line x1="464.7" y1="77.3" x2="576.5" y2="77.3" stroke="#1e1e1e" stroke-width="1.1"/>
<line x1="464.7" y1="86.6" x2="576.5" y2="86.6" stroke="#1e1e1e" stroke-width="1.1"/>
<line x1="464.7" y1="96" x2="576.5" y2="96" stroke="#1e1e1e" stroke-width="1.1"/>
<line x1="464.7" y1="105" x2="544.5" y2="105" stroke="#1e1e1e" stroke-width="1.1"/>
<line x1="464.7" y1="49.3" x2="464.7" y2="105" stroke="#1e1e1e" stroke-width="1.1"/>
<line x1="524.2" y1="49.3" x2="524.2" y2="105" stroke="#1e1e1e" stroke-width="1.1"/>
<line x1="544.5" y1="49.3" x2="544.5" y2="105" stroke="#1e1e1e" stroke-width="1.1"/>
<line x1="576.5" y1="49.3" x2="576.5" y2="96" stroke="#1e1e1e" stroke-width="1.1"/>
<rect x="465.2" y="49.699999999999996" width="12.2" height="4.2" rx="0" fill="none" stroke="#1e1e1e" stroke-width="1.0"/>
<text x="471" y="53.199999999999996" font-size="3.3" text-anchor="middle" fill="#333" font-weight="normal" font-style="normal">1.1</text>
<text x="480.8" y="55.9" font-size="4.4" text-anchor="start" fill="#262626" font-weight="normal" font-style="normal" textLength="16" lengthAdjust="spacingAndGlyphs" stroke="#262626" stroke-width="0.22">Wiatrołap</text>
<text x="526.6" y="55.8" font-size="4.3" text-anchor="start" fill="#262626" font-weight="normal" font-style="normal" textLength="7.8" lengthAdjust="spacingAndGlyphs" stroke="#262626" stroke-width="0.22">3,45</text>
<text x="538" y="55.8" font-size="4.3" text-anchor="start" fill="#262626" font-weight="normal" font-style="normal" textLength="3.2" lengthAdjust="spacingAndGlyphs" stroke="#262626" stroke-width="0.22">m</text>
<text x="541.4" y="54.099999999999994" font-size="2.3" text-anchor="start" fill="#262626" font-weight="normal" font-style="normal">2</text>
<text x="553" y="56.0" font-size="4.3" text-anchor="start" fill="#262626" font-weight="normal" font-style="normal" textLength="15" lengthAdjust="spacingAndGlyphs" stroke="#262626" stroke-width="0.22">Terakota</text>
<rect x="465.2" y="59.1" width="12.2" height="4.2" rx="0" fill="none" stroke="#1e1e1e" stroke-width="1.0"/>
<text x="471" y="62.6" font-size="3.3" text-anchor="middle" fill="#333" font-weight="normal" font-style="normal">1.2</text>
<text x="480.8" y="65.3" font-size="4.4" text-anchor="start" fill="#262626" font-weight="normal" font-style="normal" textLength="14.5" lengthAdjust="spacingAndGlyphs" stroke="#262626" stroke-width="0.22">Łazienka</text>
<text x="526.6" y="65.2" font-size="4.3" text-anchor="start" fill="#262626" font-weight="normal" font-style="normal" textLength="7.8" lengthAdjust="spacingAndGlyphs" stroke="#262626" stroke-width="0.22">3,15</text>
<text x="538" y="65.2" font-size="4.3" text-anchor="start" fill="#262626" font-weight="normal" font-style="normal" textLength="3.2" lengthAdjust="spacingAndGlyphs" stroke="#262626" stroke-width="0.22">m</text>
<text x="541.4" y="63.5" font-size="2.3" text-anchor="start" fill="#262626" font-weight="normal" font-style="normal">2</text>
<text x="553" y="65.4" font-size="4.3" text-anchor="start" fill="#262626" font-weight="normal" font-style="normal" textLength="15" lengthAdjust="spacingAndGlyphs" stroke="#262626" stroke-width="0.22">Terakota</text>
<rect x="465.2" y="68.4" width="12.2" height="4.2" rx="0" fill="none" stroke="#1e1e1e" stroke-width="1.0"/>
<text x="471" y="71.9" font-size="3.3" text-anchor="middle" fill="#333" font-weight="normal" font-style="normal">1.3</text>
<text x="480.8" y="74.6" font-size="4.4" text-anchor="start" fill="#262626" font-weight="normal" font-style="normal" textLength="8.5" lengthAdjust="spacingAndGlyphs" stroke="#262626" stroke-width="0.22">Pokój</text>
<text x="526.6" y="74.5" font-size="4.3" text-anchor="start" fill="#262626" font-weight="normal" font-style="normal" textLength="7.8" lengthAdjust="spacingAndGlyphs" stroke="#262626" stroke-width="0.22">9,69</text>
<text x="538" y="74.5" font-size="4.3" text-anchor="start" fill="#262626" font-weight="normal" font-style="normal" textLength="3.2" lengthAdjust="spacingAndGlyphs" stroke="#262626" stroke-width="0.22">m</text>
<text x="541.4" y="72.8" font-size="2.3" text-anchor="start" fill="#262626" font-weight="normal" font-style="normal">2</text>
<text x="553" y="74.7" font-size="4.3" text-anchor="start" fill="#262626" font-weight="normal" font-style="normal" textLength="15" lengthAdjust="spacingAndGlyphs" stroke="#262626" stroke-width="0.22">Terakota</text>
<rect x="465.2" y="77.7" width="12.2" height="4.2" rx="0" fill="none" stroke="#1e1e1e" stroke-width="1.0"/>
<text x="471" y="81.2" font-size="3.3" text-anchor="middle" fill="#333" font-weight="normal" font-style="normal">1.4</text>
<text x="480.8" y="83.89999999999999" font-size="4.4" text-anchor="start" fill="#262626" font-weight="normal" font-style="normal" textLength="8.5" lengthAdjust="spacingAndGlyphs" stroke="#262626" stroke-width="0.22">Pokój</text>
<text x="526.6" y="83.8" font-size="4.3" text-anchor="start" fill="#262626" font-weight="normal" font-style="normal" textLength="9.4" lengthAdjust="spacingAndGlyphs" stroke="#262626" stroke-width="0.22">13,29</text>
<text x="538" y="83.8" font-size="4.3" text-anchor="start" fill="#262626" font-weight="normal" font-style="normal" textLength="3.2" lengthAdjust="spacingAndGlyphs" stroke="#262626" stroke-width="0.22">m</text>
<text x="541.4" y="82.1" font-size="2.3" text-anchor="start" fill="#262626" font-weight="normal" font-style="normal">2</text>
<text x="554.7" y="84.0" font-size="4.3" text-anchor="start" fill="#262626" font-weight="normal" font-style="normal" textLength="11.5" lengthAdjust="spacingAndGlyphs" stroke="#262626" stroke-width="0.22">Panele</text>
<rect x="465.2" y="87.0" width="12.2" height="4.2" rx="0" fill="none" stroke="#1e1e1e" stroke-width="1.0"/>
<text x="471" y="90.5" font-size="3.3" text-anchor="middle" fill="#333" font-weight="normal" font-style="normal">1.5</text>
<text x="480.8" y="93.19999999999999" font-size="4.4" text-anchor="start" fill="#262626" font-weight="normal" font-style="normal" textLength="28.5" lengthAdjust="spacingAndGlyphs" stroke="#262626" stroke-width="0.22">Salon z aneksem</text>
<text x="526.6" y="93.1" font-size="4.3" text-anchor="start" fill="#262626" font-weight="normal" font-style="normal" textLength="9.4" lengthAdjust="spacingAndGlyphs" stroke="#262626" stroke-width="0.22">30,29</text>
<text x="538" y="93.1" font-size="4.3" text-anchor="start" fill="#262626" font-weight="normal" font-style="normal" textLength="3.2" lengthAdjust="spacingAndGlyphs" stroke="#262626" stroke-width="0.22">m</text>
<text x="541.4" y="91.39999999999999" font-size="2.3" text-anchor="start" fill="#262626" font-weight="normal" font-style="normal">2</text>
<text x="554.7" y="93.3" font-size="4.3" text-anchor="start" fill="#262626" font-weight="normal" font-style="normal" textLength="11.5" lengthAdjust="spacingAndGlyphs" stroke="#262626" stroke-width="0.22">Panele</text>
<text x="481.5" y="102.4" font-size="4.3" text-anchor="start" fill="#262626" font-weight="normal" font-style="normal" textLength="35" lengthAdjust="spacingAndGlyphs" stroke="#262626" stroke-width="0.22">Powierzchnia użytkowa</text>
<text x="526.6" y="102.3" font-size="4.3" text-anchor="start" fill="#262626" font-weight="normal" font-style="normal" textLength="9.4" lengthAdjust="spacingAndGlyphs" stroke="#262626" stroke-width="0.22">59,87</text>
<text x="538" y="102.3" font-size="4.3" text-anchor="start" fill="#262626" font-weight="normal" font-style="normal" textLength="3.2" lengthAdjust="spacingAndGlyphs" stroke="#262626" stroke-width="0.22">m</text>
<text x="541.4" y="100.6" font-size="2.3" text-anchor="start" fill="#262626" font-weight="normal" font-style="normal">2</text>
<rect x="466.7" y="131.8" width="10.4" height="7.4" rx="0" fill="none" stroke="#222" stroke-width="0.9"/>
<text x="471.9" y="137.9" font-size="6.0" text-anchor="middle" fill="#222" font-weight="normal" font-style="normal">S1</text>
<text x="479.4" y="138.6" font-size="7.4" text-anchor="start" fill="#2a2a2a" font-weight="normal" font-style="normal" textLength="58" lengthAdjust="spacingAndGlyphs" stroke="#2a2a2a" stroke-width="0.25">ŚCIANY ZEWNĘTRZNE</text>
<line x1="466" y1="140" x2="577.5" y2="140" stroke="#1e1e1e" stroke-width="1.1"/>
<line x1="466" y1="146.8" x2="577.5" y2="146.8" stroke="#1e1e1e" stroke-width="1.1"/>
<line x1="466" y1="153.0" x2="577.5" y2="153.0" stroke="#1e1e1e" stroke-width="1.1"/>
<line x1="466" y1="159.2" x2="577.5" y2="159.2" stroke="#1e1e1e" stroke-width="1.1"/>
<line x1="466" y1="165.6" x2="577.5" y2="165.6" stroke="#1e1e1e" stroke-width="1.1"/>
<line x1="466" y1="140" x2="466" y2="165.6" stroke="#1e1e1e" stroke-width="1.1"/>
<line x1="560.5" y1="140" x2="560.5" y2="165.6" stroke="#1e1e1e" stroke-width="1.1"/>
<line x1="577.5" y1="140" x2="577.5" y2="165.6" stroke="#1e1e1e" stroke-width="1.1"/>
<text x="467.6" y="144.9" font-size="4.2" text-anchor="start" fill="#303030" font-weight="normal" font-style="normal" textLength="54" lengthAdjust="spacingAndGlyphs" stroke="#303030" stroke-width="0.16">TYNK SYSTEMOWY NA SIATCE</text>
<text x="562.2" y="144.9" font-size="4.2" text-anchor="start" fill="#303030" font-weight="normal" font-style="normal" textLength="10.4" lengthAdjust="spacingAndGlyphs" stroke="#303030" stroke-width="0.16">0.1cm</text>
<text x="467.6" y="151.70000000000002" font-size="4.2" text-anchor="start" fill="#303030" font-weight="normal" font-style="normal" textLength="40" lengthAdjust="spacingAndGlyphs" stroke="#303030" stroke-width="0.16">STYROPIAN EPS 80-36</text>
<text x="562.2" y="151.70000000000002" font-size="4.2" text-anchor="start" fill="#303030" font-weight="normal" font-style="normal" textLength="8.6" lengthAdjust="spacingAndGlyphs" stroke="#303030" stroke-width="0.16">20cm</text>
<text x="467.6" y="157.9" font-size="4.2" text-anchor="start" fill="#303030" font-weight="normal" font-style="normal" textLength="32" lengthAdjust="spacingAndGlyphs" stroke="#303030" stroke-width="0.16">SILIKAT GR. 18 cm</text>
<text x="562.2" y="157.9" font-size="4.2" text-anchor="start" fill="#303030" font-weight="normal" font-style="normal" textLength="8.6" lengthAdjust="spacingAndGlyphs" stroke="#303030" stroke-width="0.16">18cm</text>
<text x="467.6" y="164.1" font-size="4.2" text-anchor="start" fill="#303030" font-weight="normal" font-style="normal" textLength="80" lengthAdjust="spacingAndGlyphs" stroke="#303030" stroke-width="0.16">TYNK CEM.-WAPIENNY (LUB GIPSOWY 0,7cm)</text>
<text x="562.2" y="164.1" font-size="4.2" text-anchor="start" fill="#303030" font-weight="normal" font-style="normal" textLength="10.4" lengthAdjust="spacingAndGlyphs" stroke="#303030" stroke-width="0.16">1.2cm</text>
<rect x="466.7" y="170.6" width="10.4" height="7.4" rx="0" fill="none" stroke="#222" stroke-width="0.9"/>
<text x="471.9" y="176.7" font-size="6.0" text-anchor="middle" fill="#222" font-weight="normal" font-style="normal">S2</text>
<text x="479.4" y="177.4" font-size="7.4" text-anchor="start" fill="#2a2a2a" font-weight="normal" font-style="normal" textLength="88.5" lengthAdjust="spacingAndGlyphs" stroke="#2a2a2a" stroke-width="0.25">ŚCIANY WEWNĘTRZNE DZIAŁOWE</text>
<line x1="466" y1="178.6" x2="577.5" y2="178.6" stroke="#1e1e1e" stroke-width="1.1"/>
<line x1="466" y1="184.8" x2="577.5" y2="184.8" stroke="#1e1e1e" stroke-width="1.1"/>
<line x1="466" y1="190.8" x2="577.5" y2="190.8" stroke="#1e1e1e" stroke-width="1.1"/>
<line x1="466" y1="196.8" x2="577.5" y2="196.8" stroke="#1e1e1e" stroke-width="1.1"/>
<line x1="466" y1="178.6" x2="466" y2="196.8" stroke="#1e1e1e" stroke-width="1.1"/>
<line x1="559.5" y1="178.6" x2="559.5" y2="196.8" stroke="#1e1e1e" stroke-width="1.1"/>
<line x1="577.5" y1="178.6" x2="577.5" y2="196.8" stroke="#1e1e1e" stroke-width="1.1"/>
<text x="467.6" y="183.4" font-size="4.2" text-anchor="start" fill="#303030" font-weight="normal" font-style="normal" textLength="80" lengthAdjust="spacingAndGlyphs" stroke="#303030" stroke-width="0.16">TYNK CEM.-WAPIENNY (LUB GIPSOWY 0,7cm)</text>
<text x="564" y="183.4" font-size="4.2" text-anchor="start" fill="#303030" font-weight="normal" font-style="normal" textLength="9.6" lengthAdjust="spacingAndGlyphs" stroke="#303030" stroke-width="0.16">1.2cm</text>
<text x="467.6" y="189.60000000000002" font-size="4.2" text-anchor="start" fill="#303030" font-weight="normal" font-style="normal" textLength="54.6" lengthAdjust="spacingAndGlyphs" stroke="#303030" stroke-width="0.16">PŁYTA G-K (STELARZ +WEŁNA)</text>
<text x="564" y="189.60000000000002" font-size="4.2" text-anchor="start" fill="#303030" font-weight="normal" font-style="normal" textLength="9.6" lengthAdjust="spacingAndGlyphs" stroke="#303030" stroke-width="0.16">7.5cm</text>
<text x="467.6" y="195.60000000000002" font-size="4.2" text-anchor="start" fill="#303030" font-weight="normal" font-style="normal" textLength="80" lengthAdjust="spacingAndGlyphs" stroke="#303030" stroke-width="0.16">TYNK CEM.-WAPIENNY (LUB GIPSOWY 0,7cm)</text>
<text x="564" y="195.60000000000002" font-size="4.2" text-anchor="start" fill="#303030" font-weight="normal" font-style="normal" textLength="9.6" lengthAdjust="spacingAndGlyphs" stroke="#303030" stroke-width="0.16">1.2cm</text>
<line x1="475.3" y1="285.8" x2="612.6" y2="285.8" stroke="#222" stroke-width="1.0"/>
<line x1="475.3" y1="285.8" x2="475.3" y2="400" stroke="#222" stroke-width="1.1"/>
<line x1="475.8" y1="316.5" x2="612.6" y2="316.5" stroke="#222" stroke-width="0.9"/>
<line x1="475.8" y1="334.4" x2="612.6" y2="334.4" stroke="#222" stroke-width="0.9"/>
<line x1="475.8" y1="362.5" x2="612.6" y2="362.5" stroke="#1e1e1e" stroke-width="1.2"/>
<line x1="475.8" y1="392.8" x2="612.6" y2="392.8" stroke="#1e1e1e" stroke-width="1.2"/>
<line x1="567.2" y1="362" x2="567.2" y2="400" stroke="#222" stroke-width="1.1"/>
<line x1="520.8" y1="392.8" x2="520.8" y2="400" stroke="#222" stroke-width="1.0"/>
<text x="478.3" y="290.8" font-size="4.6" text-anchor="start" fill="#2a2a2a" font-weight="normal" font-style="italic" textLength="37" lengthAdjust="spacingAndGlyphs" stroke="#2a2a2a" stroke-width="0.1">Temat opracowania:</text>
<text x="480.6" y="298" font-size="4.9" text-anchor="start" fill="#2a2a2a" font-weight="normal" font-style="normal" textLength="115.4" lengthAdjust="spacingAndGlyphs" stroke="#2a2a2a" stroke-width="0.1">BUDOWA BUDYNKU MIESZKALNEGO JEDNORODZINNEGO</text>
<text x="480.6" y="304.5" font-size="4.9" text-anchor="start" fill="#2a2a2a" font-weight="normal" font-style="normal" textLength="118.6" lengthAdjust="spacingAndGlyphs" stroke="#2a2a2a" stroke-width="0.1">NA DZ. NR 33/1, OBRĘB MUROWANIEC, GMINA BIAŁE BŁOTA</text>
<text x="478.3" y="321.7" font-size="4.6" text-anchor="start" fill="#2a2a2a" font-weight="normal" font-style="italic" textLength="28" lengthAdjust="spacingAndGlyphs" stroke="#2a2a2a" stroke-width="0.1">Temat rysunku:</text>
<text x="480.6" y="328.9" font-size="4.9" text-anchor="start" fill="#2a2a2a" font-weight="normal" font-style="normal" textLength="36.4" lengthAdjust="spacingAndGlyphs" stroke="#2a2a2a" stroke-width="0.1">RZUT PRZYZIEMIA</text>
<text x="478.3" y="339.5" font-size="4.6" text-anchor="start" fill="#2a2a2a" font-weight="normal" font-style="italic" textLength="16.3" lengthAdjust="spacingAndGlyphs" stroke="#2a2a2a" stroke-width="0.1">Inwestor:</text>
<text x="480.6" y="346.8" font-size="4.9" text-anchor="start" fill="#2a2a2a" font-weight="normal" font-style="normal" textLength="34" lengthAdjust="spacingAndGlyphs" stroke="#2a2a2a" stroke-width="0.1">DARIUSZ JESZKA</text>
<text x="480.6" y="352.6" font-size="4.9" text-anchor="start" fill="#2a2a2a" font-weight="normal" font-style="normal" textLength="77" lengthAdjust="spacingAndGlyphs" stroke="#2a2a2a" stroke-width="0.1">UL. GAWRONIA 3, 86-005 MUROWANIEC</text>
<text x="478.3" y="366.5" font-size="4.6" text-anchor="start" fill="#2a2a2a" font-weight="normal" font-style="italic" textLength="23.4" lengthAdjust="spacingAndGlyphs" stroke="#2a2a2a" stroke-width="0.1">Projektował:</text>
<text x="478.3" y="398.6" font-size="4.6" text-anchor="start" fill="#2a2a2a" font-weight="normal" font-style="italic" textLength="10.4" lengthAdjust="spacingAndGlyphs" stroke="#2a2a2a" stroke-width="0.1">Data:</text>
<text x="523.8" y="398.6" font-size="4.6" text-anchor="start" fill="#2a2a2a" font-weight="normal" font-style="italic" textLength="13.5" lengthAdjust="spacingAndGlyphs" stroke="#2a2a2a" stroke-width="0.1">Branża:</text>
<text x="569" y="398.6" font-size="4.6" text-anchor="start" fill="#2a2a2a" font-weight="normal" font-style="italic" textLength="13" lengthAdjust="spacingAndGlyphs" stroke="#2a2a2a" stroke-width="0.1">Nr rys.:</text>
<text x="585.8" y="398.6" font-size="4.6" text-anchor="start" fill="#2a2a2a" font-weight="normal" font-style="normal" textLength="7.7" lengthAdjust="spacingAndGlyphs" stroke="#2a2a2a" stroke-width="0.1">A-01</text>
<rect x="0" y="0" width="197.5" height="56.8" fill="#fff" fill-opacity="0.5"/>
<path d="M37 42 V0 H61.8 V42 H58 V3.7 H41 V42 Z" fill="#ef695f"/>
<rect x="64" y="2" width="3.6" height="40" fill="#ef695f"/>
<rect x="70" y="6.5" width="3.6" height="35.5" fill="#ef695f"/>
<rect x="76" y="12" width="3.8" height="30" fill="#ef695f"/>
<text x="90.8" y="31.6" font-size="17.2" text-anchor="start" fill="#4b4b4b" font-weight="bold" font-style="normal" textLength="82.2" lengthAdjust="spacingAndGlyphs" stroke="#4b4b4b" stroke-width="0.6">APARTAMENT</text>
<text x="90.2" y="40.1" font-size="5.4" text-anchor="start" fill="#878787" font-weight="normal" font-style="normal" textLength="81.2" lengthAdjust="spacing">NIERUCHOMOŚCI</text>
</g>
</svg>
</body></html>
